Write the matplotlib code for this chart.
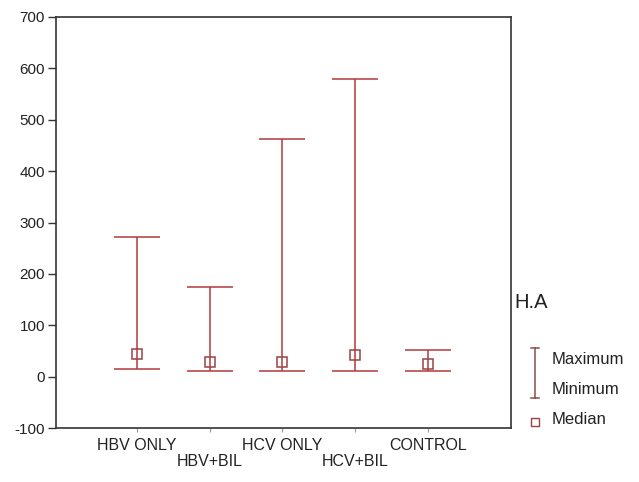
import matplotlib
matplotlib.use("Agg")
import matplotlib.pyplot as plt
from matplotlib.lines import Line2D
import numpy as np

plt.rcParams['font.family'] = ['Liberation Sans', 'DejaVu Sans']

categories = ["HBV ONLY", "HBV+BIL", "HCV ONLY", "HCV+BIL", "CONTROL"]
maximum = [272, 174, 462, 580, 51]
minimum = [14, 11, 11, 11, 11]
median = [44, 28, 28, 43, 25]
yticks = [-100, 0, 100, 200, 300, 400, 500, 600, 700]

W, H = 639, 482
fig = plt.figure(figsize=(W / 100, H / 100), dpi=100)
ax = fig.add_axes([56 / W, 1 - 428 / H, (511 - 56) / W, (428 - 17) / H])

bar_col = "#b4393b"
med_col = "#9a4242"
x = np.arange(len(categories))
med = np.array(median)
lo = med - np.array(minimum)
hi = np.array(maximum) - med

ax.errorbar(x, med, yerr=[lo, hi], fmt='none', ecolor=bar_col,
            elinewidth=1.1, capsize=16.5, capthick=1.1)
ax.plot(x, med, linestyle='none', marker='s', markersize=6.5,
        markerfacecolor='none', markeredgecolor=med_col, markeredgewidth=1.1)

ax.set_xlim(-1.11, 4 + 1.14)
ax.set_ylim(-100, 700)
ax.set_yticks(yticks)
ax.set_yticklabels([str(v) for v in yticks], fontsize=11, color="#222222")
ax.set_xticks(x)
ax.set_xticklabels([c if i % 2 == 0 else "\n" + c for i, c in enumerate(categories)],
                   fontsize=11.5, color="#222222", linespacing=1.1)
ax.tick_params(axis='x', length=3, width=0.8, color="#999999", pad=4)
ax.tick_params(axis='y', length=6, width=1.0, color="#333333", pad=2)
for s in ax.spines.values():
    s.set_color("#333333")
    s.set_linewidth(1.2)

# legend
fig.text(514 / W, 1 - 303 / H, "H.A", fontsize=14.5, va='center', ha='left', color="#222222")
lx = 535 / W
leg_col = "#8a4a4a"
fig.add_artist(Line2D([lx, lx], [1 - 348 / H, 1 - 398 / H], color=leg_col, lw=1.1,
                      transform=fig.transFigure))
for yy in (348, 398):
    fig.add_artist(Line2D([lx - 4 / W, lx + 4 / W], [1 - yy / H, 1 - yy / H],
                          color=leg_col, lw=1.1, transform=fig.transFigure))
fig.add_artist(Line2D([lx], [1 - 422 / H], marker='s', markersize=5.5,
                      markerfacecolor='none', markeredgecolor=med_col,
                      markeredgewidth=1.0, linestyle='none', transform=fig.transFigure))
for label, yy in (("Maximum", 360), ("Minimum", 390), ("Median", 419)):
    fig.text(552 / W, 1 - yy / H, label, fontsize=12, va='center', ha='left', color="#222222")

fig.savefig("out.png", dpi=100)
